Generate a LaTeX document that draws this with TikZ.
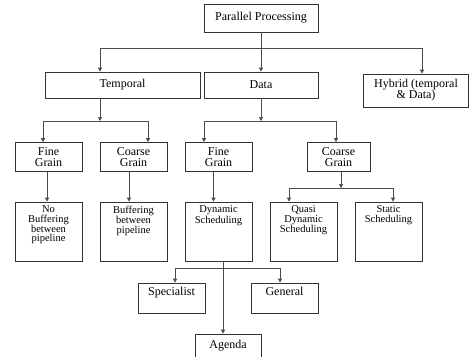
\documentclass[tikz,border=0pt]{standalone}
\usepackage{fontspec}
\setmainfont{Liberation Serif}
\usetikzlibrary{positioning,arrows.meta}

\begin{document}
\begin{tikzpicture}[x=1pt, y=-1pt,
                    box/.style={draw=black!80, line width=0.7pt, align=center,
                    inner sep=1pt, font=\fontsize{12}{11}\selectfont},
                    tallbox/.style={draw=black!80, line width=0.7pt,
                    minimum width=67, minimum height=59},
                    inlbl/.style={anchor=north, align=center, inner sep=0pt,
                    yshift=-4pt, font=\fontsize{10.5}{9.3}\selectfont},
                    inlblbig/.style={inlbl, font=\fontsize{12}{11}\selectfont},
                    arr/.style={draw=black!70, line width=0.7pt,
                    -{Triangle[width=4pt,length=4pt]}},
                ]
                \useasboundingbox (0,0) rectangle (470,356);

                \node[box, minimum width=114, minimum height=28] (pp) at (261,18) {Parallel Processing};
                \node[box, minimum width=155, minimum height=26] (temporal) at (122.5,85) {Temporal};
                \node[box, minimum width=114, minimum height=26] (data) at (261,85) {Data};
                \node[box, minimum width=105, minimum height=33] (hybrid) at (416,90.5) {Hybrid (temporal\\ \& Data)};

                \node[box, minimum width=67, minimum height=29] (fine_t) at (48.5,157) {Fine\\ Grain};
                \node[box, minimum width=67, minimum height=29] (coarse_t) at (133.5,157) {Coarse\\ Grain};
                \node[box, minimum width=67, minimum height=29] (fine_d) at (218.5,157) {Fine\\ Grain};
                \node[box, minimum width=63, minimum height=29] (coarse_d) at (338.5,157) {Coarse\\ Grain};

                \node[tallbox, label={[inlbl]north:No\\ Buffering\\ between\\ pipeline}] (nobuf) at (48.5,231.5) {};
                \node[tallbox, label={[inlbl]north:Buffering\\ between\\ pipeline}] (buf) at (133.5,231.5) {};
                \node[tallbox, label={[inlbl]north:Dynamic\\ Scheduling}] (dynamic) at (218.5,231.5) {};
                \node[tallbox, label={[inlbl]north:Quasi\\ Dynamic\\ Scheduling}] (quasi) at (303.5,231.5) {};
                \node[tallbox, label={[inlbl]north:Static\\ Scheduling}] (static) at (388.5,231.5) {};

                \node[tallbox, minimum height=30, label={[inlblbig]north:Specialist}] (specialist) at (171.5,298) {};
                \node[tallbox, minimum height=30, label={[inlblbig]north:General}] (general) at (284.5,298) {};
                \node[box, minimum width=66, minimum height=24] (agenda) at (228,346) {Agenda};

                % junctions of the branch lines
                \coordinate (j_pp) at (261,48);
                \coordinate (j_temporal) at (100,121);
                \coordinate (j_data) at (261,121);
                \coordinate (j_coarse) at (341,188);
                \coordinate (j_dynamic) at (223,268);

                \draw[arr] (pp.south) -- (data.north);
                \draw[arr] (j_pp) -| ([xshift=-22.5pt]temporal.north);
                \draw[arr] (j_pp) -| ([xshift=6pt]hybrid.north);

                \draw[arr] (temporal.south -| j_temporal) -- (j_temporal);
                \draw[arr] (j_temporal) -| ([xshift=-5.5pt]fine_t.north);
                \draw[arr] (j_temporal) -| ([xshift=14.5pt]coarse_t.north);
                \draw[arr] (data.south) -- (j_data);
                \draw[arr] (j_data) -| ([xshift=-14.5pt]fine_d.north);
                \draw[arr] (j_data) -| ([xshift=-2.5pt]coarse_d.north);

                \draw[arr] ([xshift=-1.5pt]fine_t.south) -- ([xshift=-1.5pt]fine_t.south |- nobuf.north);
                \draw[arr] ([xshift=-4.5pt]coarse_t.south) -- ([xshift=-4.5pt]coarse_t.south |- buf.north);
                \draw[arr] ([xshift=-5pt]fine_d.south) -- ([xshift=-5pt]fine_d.south |- dynamic.north);

                \draw[arr] (coarse_d.south -| j_coarse) -- (j_coarse);
                \draw[arr] (j_coarse) -| ([xshift=-14.5pt]quasi.north);
                \draw[arr] (j_coarse) -| ([xshift=4.5pt]static.north);

                \draw[arr] (dynamic.south -| j_dynamic) -- (agenda.north -| j_dynamic);
                \draw[arr] (j_dynamic) -| ([xshift=3.5pt]specialist.north);
                \draw[arr] (j_dynamic) -| ([xshift=-4.5pt]general.north);
            \end{tikzpicture}
\end{document}
